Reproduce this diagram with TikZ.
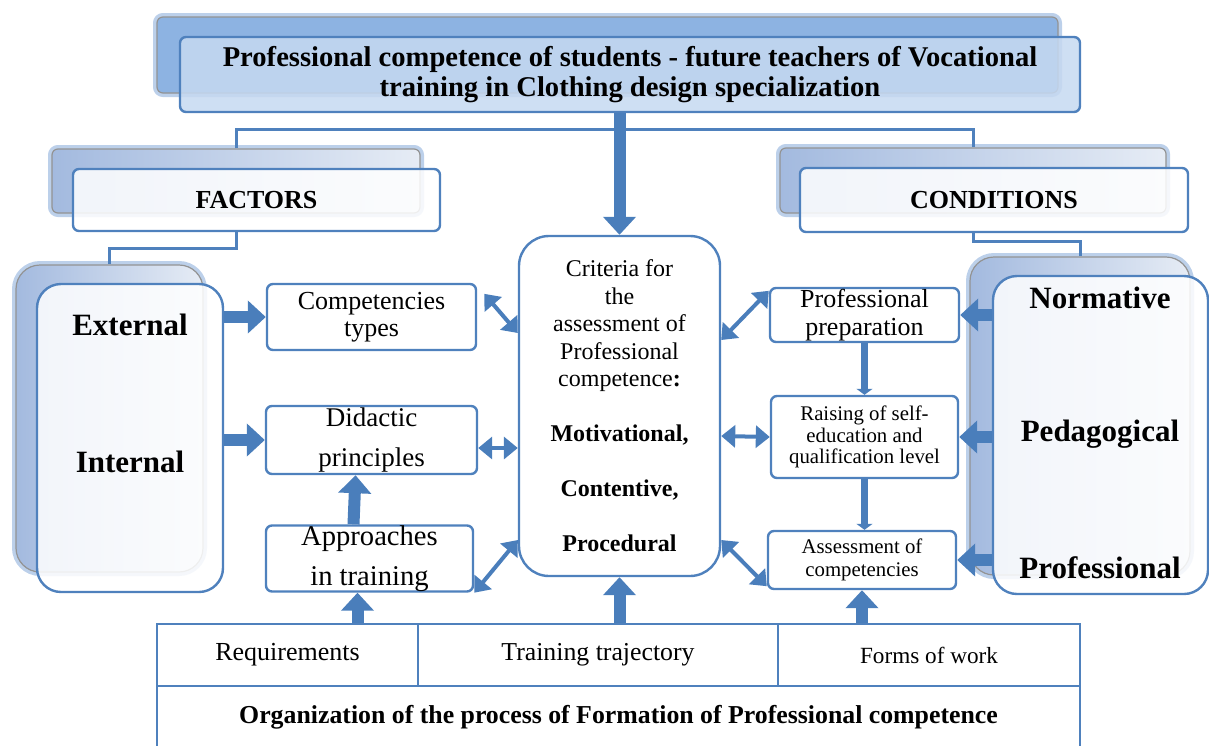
\documentclass[tikz,border=0pt]{standalone}
\usepackage{fontspec}
\setmainfont{Liberation Serif}
\usetikzlibrary{arrows.meta}

\definecolor{boxblue}{HTML}{4F81BD}
\definecolor{arrowblue}{HTML}{4A7EBB}
\definecolor{titlefill}{HTML}{C6D9F1}
\definecolor{titleshade}{HTML}{8DB3E2}
\definecolor{backdark}{HTML}{A3BADF}
\definecolor{backlight}{HTML}{E6ECF5}
\definecolor{glowblue}{HTML}{BCD0EA}

\begin{document}
\begin{tikzpicture}[x=0.5pt,y=-0.5pt,
    backbox/.style={draw=gray!85, line width=0.6pt, rounded corners=3pt, inner sep=0pt,
        preaction={draw=glowblue, line width=4pt}},
    frontbox/.style={draw=boxblue, line width=1.2pt, fill=white, fill opacity=0.85, text opacity=1,
        rounded corners=3pt, inner sep=0pt, align=center},
    smallbox/.style={draw=boxblue, line width=1.2pt, fill=white, rounded corners=3pt, inner sep=0pt, align=center},
    cell/.style={draw=boxblue, line width=1.2pt, inner sep=0pt},
    bigword/.style={font=\bfseries\fontsize{15.5}{16}\selectfont},
    link/.style={draw=boxblue, line width=1.5pt},
    fat/.style={arrowblue, line width=6pt, -{Triangle[length=9pt,width=16pt]}},
    dbl/.style={arrowblue, line width=2pt, {Triangle[length=7pt,width=11pt]}-{Triangle[length=7pt,width=11pt]}},
    downlink/.style={arrowblue, line width=3.5pt, -{Triangle[length=3pt,width=8pt]}}]

    \useasboundingbox (0,0) rectangle (1209,745);

    % title
    \node[backbox, fill=titleshade, minimum width=450.5pt, minimum height=38pt] (titleback) at (607.5,55) {};
    \node[frontbox, fill=titlefill, minimum width=450pt, minimum height=37.5pt,
        font=\bfseries\fontsize{14.3}{15}\selectfont] (title) at (630,74.5)
        {Professional competence of students - future teachers of Vocational\\training in Clothing design specialization};

    % factors and conditions headers
    \node[backbox, left color=backdark, right color=backlight, minimum width=184pt, minimum height=32pt] (factorsback) at (236,181) {};
    \node[frontbox, minimum width=183.5pt, minimum height=31pt, font=\bfseries\fontsize{13}{14}\selectfont] (factors) at (256.5,200) {FACTORS};
    \node[backbox, left color=backdark, right color=backlight, minimum width=193pt, minimum height=32.5pt] (condback) at (973,180.5) {};
    \node[frontbox, minimum width=194pt, minimum height=32pt, font=\bfseries\fontsize{13}{14}\selectfont] (conditions) at (994,200) {CONDITIONS};

    % big side boxes
    \node[backbox, left color=backdark, right color=backlight, rounded corners=12pt, minimum width=93.5pt, minimum height=153.5pt] (factorback) at (109.5,418.5) {};
    \node[frontbox, rounded corners=12pt, minimum width=93pt, minimum height=154pt] (factorfront) at (130,438) {};
    \node[bigword] (ext) at (130,325) {External};
    \node[bigword] (int) at (130,462) {Internal};

    \node[backbox, left color=backdark, right color=backlight, rounded corners=12pt, minimum width=110pt, minimum height=159pt] (condbigback) at (1080,416) {};
    \node[frontbox, rounded corners=12pt, minimum width=107.5pt, minimum height=159pt] (condfront) at (1100.5,435) {};
    \node[bigword] (norm) at (1100,298) {Normative};
    \node[bigword] (ped) at (1100,434) {Pedagogical};
    \node[bigword] (prof) at (1100,568) {Professional};

    % left column
    \node[smallbox, minimum width=104.5pt, minimum height=33pt, font=\fontsize{13}{13.5}\selectfont] (comp) at (371.5,317) {Competencies\\types};
    \node[smallbox, minimum width=105.5pt, minimum height=34pt, font=\fontsize{13.5}{20}\selectfont] (didac) at (371.5,440) {Didactic\\principles};
    \node[smallbox, minimum width=103.5pt, minimum height=31.5pt, font=\fontsize{14.3}{20}\selectfont] (appr) at (369.5,558.5) {Approaches\\in training};

    % criteria
    \node[smallbox, rounded corners=15pt, minimum width=100.5pt, minimum height=170pt, font=\fontsize{12}{13.75}\selectfont] (crit) at (619.5,406)
        {Criteria for\\the\\assessment of\\Professional\\competence\textbf{:}\\[13.75pt]\textbf{Motivational,}\\[13.75pt]\textbf{Contentive,}\\[13.75pt]\textbf{Procedural}};

    % right column
    \node[smallbox, minimum width=94.5pt, minimum height=27pt, font=\fontsize{13}{14}\selectfont] (prep) at (864.5,315) {Professional\\preparation};
    \node[smallbox, minimum width=93.5pt, minimum height=41pt, font=\fontsize{10.4}{10.6}\selectfont] (raise) at (864.5,437) {Raising of self-\\education and\\qualification level};
    \node[smallbox, minimum width=94pt, minimum height=29pt, font=\fontsize{10.4}{11.5}\selectfont] (asses) at (862,560) {Assessment of\\competencies};

    % organization table
    \node[cell, minimum width=130.5pt, minimum height=31pt, font=\fontsize{13}{14}\selectfont] (req) at (287.5,655) {Requirements};
    \node[cell, minimum width=180pt, minimum height=31pt, font=\fontsize{12.9}{14}\selectfont] (traj) at (598,655) {Training trajectory};
    \node[cell, minimum width=151pt, minimum height=31pt, font=\fontsize{11.6}{13}\selectfont] (forms) at (929,655) {Forms of work};
    \node[cell, minimum width=461.5pt, minimum height=31pt, font=\bfseries\fontsize{12.9}{14}\selectfont] (org) at (618.5,717) {Organization of the process of Formation of Professional competence};

    % thin links
    \draw[link] (factorsback.north) -- ++(0,-19) -| (condback.north);
    \draw[link] (factors.south -| factorsback) -- ++(0,16) -| (factorback.north);
    \draw[link] (conditions.south -| condback) -- ++(0,8) -| (condbigback.north);

    % fat arrows
    \draw[fat] (crit.north |- title.south) -- (crit.north);
    \draw[fat] (factorfront.east |- comp) -- (comp.west);
    \draw[fat] (factorfront.east |- didac) -- (didac.west);
    \draw[fat] ([xshift=-8pt]appr.north) -- ([xshift=-8pt]didac.south);
    \path ([xshift=-6pt]appr.south) coordinate (apprfoot);
    \draw[fat] (apprfoot |- req.north) -- (apprfoot);
    \draw[fat] (crit.south |- traj.north) -- (crit.south);
    \draw[fat] (asses.south |- forms.north) -- (asses.south);
    \draw[fat] (condfront.west |- prep) -- (prep.east);
    \draw[fat] (condfront.west |- raise) -- (raise.east);
    \draw[fat] (condfront.west |- asses) -- (asses.east);

    \draw[downlink] (prep.south) -- (raise.north);
    \draw[downlink] (raise.south) -- (raise.south |- asses.north);

    % double arrows
    \draw[dbl] ([shift={(3.5pt,-5.5pt)}]comp.north east) -- ([yshift=36.5pt]crit.west);
    \draw[dbl] ([yshift=-4pt]didac.east) -- ([yshift=-21pt]crit.west);
    \draw[dbl] (appr.south east) -- ([yshift=-67pt]crit.west);
    \draw[dbl] ([yshift=33pt]crit.east) -- ([yshift=-2pt]prep.north west);
    \draw[dbl] ([yshift=-15pt]crit.east) -- (raise.west);
    \draw[dbl] ([yshift=-67pt]crit.east) -- ([yshift=2pt]asses.south west);
\end{tikzpicture}
\end{document}
